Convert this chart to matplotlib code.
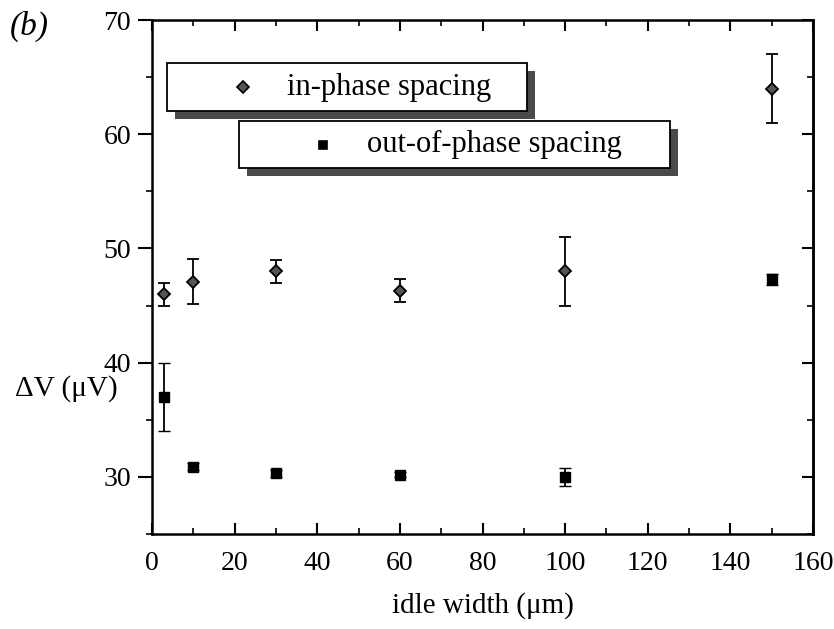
import matplotlib
matplotlib.use("Agg")
import matplotlib.pyplot as plt
from matplotlib.patches import Rectangle
from matplotlib.lines import Line2D
from matplotlib.ticker import MultipleLocator

plt.rcParams['font.family'] = ['Liberation Serif', 'DejaVu Serif']
plt.rcParams['mathtext.fontset'] = 'stix'

# idle width (um)
idle_width = [3, 10, 30, 60, 100, 150]
# in-phase spacing, dV (uV) and error
in_phase = [46.0, 47.1, 48.0, 46.3, 48.0, 64.0]
in_phase_err = [1.0, 2.0, 1.0, 1.0, 3.0, 3.0]
# out-of-phase spacing, dV (uV) and error
out_phase = [37.0, 30.9, 30.3, 30.2, 30.0, 47.3]
out_phase_err = [3.0, 0.3, 0.3, 0.2, 0.8, 0.5]

W, H = 834, 629
fig = plt.figure(figsize=(W / 100, H / 100), dpi=100)
ax = fig.add_axes([152 / W, 1 - 534 / H, (813 - 152) / W, (534 - 20) / H])

ax.errorbar(idle_width, in_phase, yerr=in_phase_err, fmt='D', ms=6.5,
            mfc='#555555', mec='black', mew=1.3, ecolor='black',
            elinewidth=1.3, capsize=4.5, capthick=1.3)
ax.errorbar(idle_width, out_phase, yerr=out_phase_err, fmt='s', ms=6.5,
            mfc='black', mec='black', mew=1.0, ecolor='black',
            elinewidth=1.3, capsize=4.5, capthick=1.3)

ax.set_xlim(0, 160)
ax.set_ylim(25, 70)
ax.xaxis.set_major_locator(MultipleLocator(20))
ax.xaxis.set_minor_locator(MultipleLocator(10))
ax.yaxis.set_major_locator(MultipleLocator(10))
ax.yaxis.set_minor_locator(MultipleLocator(5))

for s in ax.spines.values():
    s.set_linewidth(1.8)

ax.tick_params(axis='both', which='major', labelsize=20, width=1.5)
ax.tick_params(axis='x', which='both', direction='in', top=True)
ax.tick_params(axis='x', which='major', length=8, pad=12)
ax.tick_params(axis='x', which='minor', length=4, width=1.2)
ax.tick_params(axis='y', which='major', direction='out', length=10, pad=5)
ax.tick_params(axis='y', which='minor', direction='out', length=4, width=1.2)

# right-hand ticks pointing inward
ax_r = ax.secondary_yaxis('right')
ax_r.yaxis.set_major_locator(MultipleLocator(10))
ax_r.yaxis.set_minor_locator(MultipleLocator(5))
ax_r.tick_params(which='major', direction='in', length=8, width=1.5, labelright=False)
ax_r.tick_params(which='minor', direction='in', length=4, width=1.2)
ax_r.spines['right'].set_linewidth(1.8)

ax.set_xlabel('idle width (\u03bcm)', fontsize=21, labelpad=12)
fig.text(15 / W, 1 - 389 / H, '\u0394V (\u03bcV)', fontsize=21, va='center', ha='left')
fig.text(10 / W, 1 - 26 / H, '(b)', fontsize=24, style='italic', va='center', ha='left')


def legend_box(x0, y0, x1, y1, marker, mfc, mx, label, tx):
    sh = 8
    fig.patches.append(Rectangle(((x0 + sh) / W, 1 - (y1 + sh) / H), (x1 - x0) / W, (y1 - y0) / H,
                                 transform=fig.transFigure, facecolor='#4a4a4a',
                                 edgecolor='none', zorder=5))
    fig.patches.append(Rectangle((x0 / W, 1 - y1 / H), (x1 - x0) / W, (y1 - y0) / H,
                                 transform=fig.transFigure, facecolor='white',
                                 edgecolor='black', linewidth=1.3, zorder=6))
    yc = (y0 + y1) / 2
    fig.lines.append(Line2D([mx / W], [1 - yc / H], transform=fig.transFigure,
                            marker=marker, ms=6, mfc=mfc, mec='black', mew=1.2,
                            linestyle='none', zorder=7))
    fig.text(tx / W, 1 - yc / H, label, fontsize=22, va='center', ha='left', zorder=7)


legend_box(167, 63, 527, 111, 'D', '#555555', 243, 'in-phase spacing', 287)
legend_box(239, 121, 670, 168, 's', 'black', 323, 'out-of-phase spacing', 367)

fig.savefig('out.png', dpi=100)
